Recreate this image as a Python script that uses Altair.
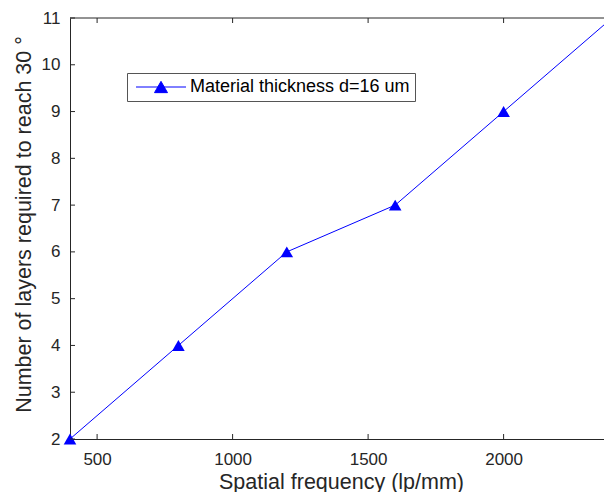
import altair as alt
import pandas as pd

freq = [400, 800, 1200, 1600, 2000, 2400]
layers = [2, 4, 6, 7, 9, 11]
series_name = "Material thickness d=16 um"
x_ticks = [500, 1000, 1500, 2000]
y_ticks = [2, 3, 4, 5, 6, 7, 8, 9, 10, 11]
x_title = "Spatial frequency (lp/mm)"
y_title = "Number of layers required to reach 30 °"

W, H = 542, 421
FONT = "Liberation Sans"
AX = "#262626"

df = pd.DataFrame({"freq": freq, "layers": layers, "series": [series_name] * len(freq)})
xt = pd.DataFrame({"t": x_ticks})
yt = pd.DataFrame({"t": y_ticks})
one = pd.DataFrame({"a": [0]})

xs = alt.Scale(domain=[400, 2400], nice=False, zero=False)
ys = alt.Scale(domain=[2, 11], nice=False, zero=False)

# legend symbol: line segment with a triangle marker in the middle
sym = "M-1,0H9M4,-1.126L5.3,1.126L2.7,1.126Z"

main = alt.Chart(df).mark_line(
    strokeWidth=1,
    point=alt.OverlayMarkDef(shape="triangle-up", filled=True, size=160, color="blue", opacity=1),
).encode(
    x=alt.X("freq:Q", scale=xs,
            axis=alt.Axis(values=x_ticks, format="d", title=x_title, labelPadding=12,
                          titleBaseline="alphabetic", titleY=49)),
    y=alt.Y("layers:Q", scale=ys,
            axis=alt.Axis(values=y_ticks, format="d", title=y_title, labelPadding=10,
                          titleAngle=270, titleBaseline="alphabetic", titleX=-40, titleY=206)),
    color=alt.Color("series:N", scale=alt.Scale(range=["blue"]),
                    legend=alt.Legend(orient="none", legendX=57, legendY=55, title=None,
                                      symbolType=sym, symbolSize=100, symbolStrokeWidth=1,
                                      symbolFillColor="blue", symbolStrokeColor="blue",
                                      labelFont=FONT, labelFontSize=18, labelColor="black",
                                      labelLimit=500,
                                      labelOffset=40, padding=5, strokeColor="#555555",
                                      fillColor="white", cornerRadius=0)),
)

bottom = alt.Chart(xt).mark_rule(color=AX, strokeWidth=1).encode(
    x=alt.X("t:Q", scale=xs), y=alt.value(H), y2=alt.value(H - 5))
top = alt.Chart(xt).mark_rule(color=AX, strokeWidth=1).encode(
    x=alt.X("t:Q", scale=xs), y=alt.value(0), y2=alt.value(5))
left = alt.Chart(yt).mark_rule(color=AX, strokeWidth=1).encode(
    y=alt.Y("t:Q", scale=ys), x=alt.value(0), x2=alt.value(5))
right = alt.Chart(yt).mark_rule(color=AX, strokeWidth=1).encode(
    y=alt.Y("t:Q", scale=ys), x=alt.value(W), x2=alt.value(W - 5))
topline = alt.Chart(one).mark_rule(color=AX, strokeWidth=1).encode(
    x=alt.value(0), x2=alt.value(W), y=alt.value(0))

chart = alt.layer(main, bottom, top, left, right, topline).properties(
    width=W, height=H,
    autosize=alt.AutoSizeParams(type="none"),
    padding={"left": 62, "top": 10, "right": -8, "bottom": 53},
).configure_view(stroke=None).configure_axis(
    domainColor=AX, domainWidth=1, ticks=False, grid=False,
    labelFont=FONT, labelFontSize=17, labelColor=AX,
    titleFont=FONT, titleFontSize=21.5, titleFontWeight="normal", titleColor=AX,
)

chart.save("out.html", embed_options={"renderer": "svg", "actions": False})
